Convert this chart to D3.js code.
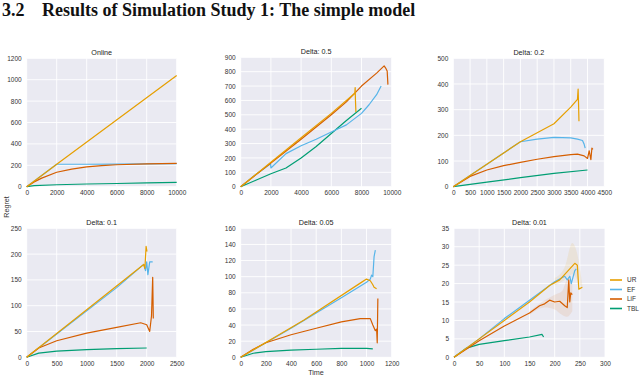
<!DOCTYPE html>
<html>
<head>
<meta charset="utf-8">
<script src="https://cdn.jsdelivr.net/npm/d3@7"></script>
<style>
  body { margin: 0; background: #fff; }
  svg { display: block; }
  .tick text { font-family: "Liberation Sans", Arial, sans-serif; }
</style>
</head>
<body>
<div id="chart"></div>
<script>
const seriesNames = ['UR', 'EF', 'LiF', 'TBL'];
const colors = ['#E69F00', '#56B4E9', '#D55E00', '#009E73'];
const titles = ['Online', 'Delta: 0.5', 'Delta: 0.2', 'Delta: 0.1', 'Delta: 0.05', 'Delta: 0.01'];

// x limits, y limits and ticks per panel
const xMax = [10000, 10000, 4500, 2500, 1200, 300];
const yMax = [1200, 900, 500, 250, 160, 35];
const xTicks = [
  [0, 2000, 4000, 6000, 8000, 10000],
  [0, 2000, 4000, 6000, 8000, 10000],
  [0, 500, 1000, 1500, 2000, 2500, 3000, 3500, 4000, 4500],
  [0, 500, 1000, 1500, 2000, 2500],
  [0, 200, 400, 600, 800, 1000, 1200],
  [0, 50, 100, 150, 200, 250, 300]
];
const yTicks = [
  [0, 200, 400, 600, 800, 1000, 1200],
  [0, 100, 200, 300, 400, 500, 600, 700, 800, 900],
  [0, 100, 200, 300, 400, 500],
  [0, 50, 100, 150, 200, 250],
  [0, 20, 40, 60, 80, 100, 120, 140, 160],
  [0, 5, 10, 15, 20, 25, 30, 35]
];

// [time, regret] per series, per panel (UR, EF, LiF, TBL)
const online = [
  [[0, 0], [2000, 210], [10000, 1040]],
  [[0, 0], [2000, 210], [4000, 210], [6000, 211], [10000, 215]],
  [[0, 0], [500, 45], [1000, 80], [2000, 135], [3000, 165], [4000, 185], [5000, 197], [6000, 205], [8000, 213], [10000, 218]],
  [[0, 0], [500, 10], [2000, 18], [4000, 25], [6000, 30], [8000, 35], [10000, 40]]
];
const delta05 = [
  [[0, 0], [2000, 170], [4000, 340], [6000, 510], [7500, 645], [7560, 650], [7580, 690], [7600, 600], [7630, 520]],
  [[0, 0], [1000, 85], [1980, 160], [2000, 130], [3000, 230], [4000, 285], [5000, 330], [6000, 380], [7000, 430], [8000, 510], [8500, 570], [9000, 640], [9300, 700]],
  [[0, 0], [2000, 165], [4000, 330], [6000, 500], [7000, 590], [8000, 700], [9000, 790], [9500, 840], [9600, 825], [9700, 805], [9750, 710]],
  [[0, 0], [1000, 45], [2000, 90], [3000, 130], [4000, 200], [5000, 280], [6000, 370], [7000, 460], [8000, 545]]
];
const delta02 = [
  [[0, 0], [2000, 175], [3000, 245], [3500, 310], [3700, 340], [3720, 380], [3735, 310], [3745, 255]],
  [[0, 0], [2000, 175], [2500, 185], [3000, 192], [3500, 190], [3700, 185], [3850, 180], [3900, 165], [3930, 150]],
  [[0, 0], [500, 40], [1000, 65], [1500, 82], [2000, 95], [2500, 107], [3000, 117], [3500, 125], [3700, 127], [3900, 120], [4000, 110], [4050, 140], [4100, 105], [4130, 150], [4160, 145]],
  [[0, 0], [1000, 18], [2000, 35], [3000, 52], [4000, 65]]
];
const delta01 = [
  [[0, 0], [1000, 92], [1950, 180], [1970, 172], [1990, 215], [2005, 205]],
  [[0, 0], [500, 45], [1000, 90], [1500, 135], [1950, 180], [1980, 168], [2000, 185], [2020, 160], [2050, 185], [2100, 185]],
  [[0, 0], [200, 18], [500, 32], [1000, 47], [1500, 58], [1900, 67], [2000, 63], [2050, 50], [2080, 80], [2100, 155], [2110, 75]],
  [[0, 0], [200, 8], [500, 12], [1000, 15], [1500, 17], [2000, 18]]
];
const delta005 = [
  [[0, 0], [500, 46], [950, 92], [1000, 97], [1030, 95], [1050, 90], [1060, 87], [1080, 85]],
  [[0, 0], [200, 18], [400, 36], [600, 55], [800, 74], [1000, 93], [1030, 97], [1040, 102], [1050, 100], [1060, 125], [1070, 133]],
  [[0, 0], [100, 10], [200, 18], [400, 28], [600, 36], [800, 44], [950, 48], [1000, 48], [1030, 48], [1050, 40], [1070, 33], [1080, 35], [1085, 18], [1090, 73]],
  [[0, 0], [100, 5], [200, 7], [400, 9], [600, 10], [800, 11], [1000, 11], [1050, 10.5]]
];
const delta001 = [
  [[0, 0], [50, 5], [100, 10], [150, 15], [190, 19.5], [210, 21], [220, 22.5], [230, 24], [240, 25.5], [245, 25], [248, 18.5], [255, 19]],
  [[0, 0], [50, 5], [100, 10.5], [150, 15.5], [200, 20.5], [220, 22], [225, 21], [230, 22], [233, 20], [240, 23.5], [243, 24]],
  [[0, 0], [50, 4.5], [100, 8.5], [150, 12], [170, 14], [180, 14.5], [190, 15.5], [200, 15], [210, 15.2], [220, 14], [225, 13.5], [228, 21], [230, 15], [232, 17.5], [235, 17]],
  [[0, 0], [25, 2.5], [50, 3.5], [100, 4.5], [150, 5.5], [175, 6.2], [178, 5.5]]
];
// faint confidence bands [time, low, high] for LiF and UR in the Delta 0.01 panel
const bandLiF001 = [[150, 11.5, 12.5], [180, 13.5, 15.5], [200, 13, 17], [215, 11.5, 18], [225, 11, 21], [235, 12.5, 20]];
const bandUR001 = [[200, 19.5, 21.5], [220, 21, 24.5], [235, 22.5, 31], [245, 21, 28], [255, 18.5, 19.5]];

const panelData = [online, delta05, delta02, delta01, delta005, delta001];

const W = 640, H = 377;
const svg = d3.select('#chart').append('svg')
  .attr('width', W)
  .attr('height', H);

const head = svg.append('g')
  .attr('font-family', '"Liberation Serif", serif')
  .attr('font-weight', 'bold')
  .attr('font-size', 18)
  .attr('fill', '#111');
head.append('text').attr('x', 2).attr('y', 15.5).text('3.2');
head.append('text').attr('x', 42).attr('y', 15.5)
  .text('Results of Simulation Study 1: The simple model');

// plot rectangles [left, top, right, bottom]
const boxes = [
  [26.7, 58.3, 176.7, 186.7],
  [240.7, 57.3, 391.7, 186.7],
  [453.3, 58.3, 604.3, 186.7],
  [26.7, 228.3, 176.7, 357.3],
  [240.7, 228.3, 391.7, 357.3],
  [454, 228.3, 605, 357.3]
];

panelData.forEach((series, i) => {
  const [l, t, r, b] = boxes[i];
  const x = d3.scaleLinear().domain([0, xMax[i]]).range([l, r]);
  const y = d3.scaleLinear().domain([0, yMax[i]]).range([b, t]);
  const g = svg.append('g');

  g.append('rect')
    .attr('x', l).attr('y', t)
    .attr('width', r - l).attr('height', b - t)
    .attr('fill', '#EAEAF2');

  g.selectAll('.vgrid').data(xTicks[i]).enter().append('line')
    .attr('x1', d => x(d)).attr('x2', d => x(d))
    .attr('y1', t).attr('y2', b)
    .attr('stroke', '#fff').attr('stroke-width', 0.9);
  g.selectAll('.hgrid').data(yTicks[i]).enter().append('line')
    .attr('y1', d => y(d)).attr('y2', d => y(d))
    .attr('x1', l).attr('x2', r)
    .attr('stroke', '#fff').attr('stroke-width', 0.9);

  const xAxis = g.append('g')
    .attr('transform', `translate(0,${b})`)
    .call(d3.axisBottom(x).tickValues(xTicks[i]).tickSize(0).tickPadding(4).tickFormat(d3.format('d')));
  const yAxis = g.append('g')
    .attr('transform', `translate(${l},0)`)
    .call(d3.axisLeft(y).tickValues(yTicks[i]).tickSize(0).tickPadding(5).tickFormat(d3.format('d')));
  [xAxis, yAxis].forEach(a => {
    a.select('.domain').remove();
    a.selectAll('text').attr('font-size', 6.5).attr('fill', '#333');
  });

  g.append('text')
    .attr('x', (l + r) / 2).attr('y', t - 3)
    .attr('text-anchor', 'middle')
    .attr('font-family', '"Liberation Sans", Arial, sans-serif')
    .attr('font-size', 7.2)
    .attr('fill', '#222')
    .text(titles[i]);

  const line = d3.line().x(d => x(d[0])).y(d => y(d[1]));
  const area = d3.area().x(d => x(d[0])).y0(d => y(d[1])).y1(d => y(d[2])).curve(d3.curveMonotoneX);

  if (i === 5) {
    g.append('path').attr('d', area(bandLiF001)).attr('fill', colors[2]).attr('opacity', 0.1);
    g.append('path').attr('d', area(bandUR001)).attr('fill', colors[0]).attr('opacity', 0.1);
  }

  // draw order: TBL, EF, LiF, UR on top roughly like the reference
  [3, 1, 2, 0].forEach(k => {
    g.append('path')
      .attr('d', line(series[k]))
      .attr('fill', 'none')
      .attr('stroke', colors[k])
      .attr('stroke-width', 1.2)
      .attr('stroke-linejoin', 'round');
  });
});

svg.append('text')
  .attr('transform', 'translate(9,207) rotate(-90)')
  .attr('text-anchor', 'middle')
  .attr('font-family', '"Liberation Sans", Arial, sans-serif')
  .attr('font-size', 7.2)
  .attr('fill', '#333')
  .text('Regret');

svg.append('text')
  .attr('x', 316).attr('y', 375)
  .attr('text-anchor', 'middle')
  .attr('font-family', '"Liberation Sans", Arial, sans-serif')
  .attr('font-size', 7.2)
  .attr('fill', '#333')
  .text('Time');

const legend = svg.append('g');
seriesNames.forEach((name, k) => {
  const ly = 280 + k * 9.5;
  legend.append('line')
    .attr('x1', 610).attr('x2', 622)
    .attr('y1', ly).attr('y2', ly)
    .attr('stroke', colors[k]).attr('stroke-width', 1.6);
  legend.append('text')
    .attr('x', 627).attr('y', ly + 2.4)
    .attr('font-family', '"Liberation Sans", Arial, sans-serif')
    .attr('font-size', 6.5)
    .attr('fill', '#333')
    .text(name);
});
</script>
</body>
</html>
